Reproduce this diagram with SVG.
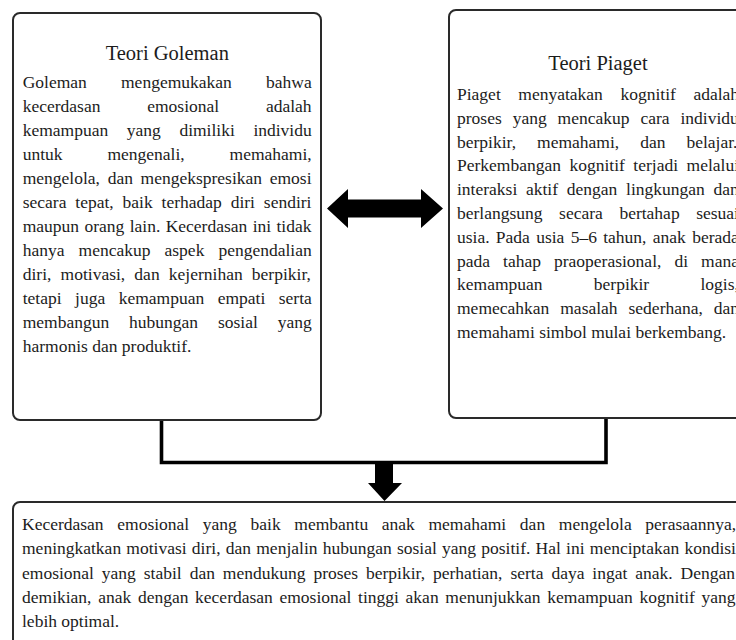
<svg xmlns="http://www.w3.org/2000/svg" width="736" height="640" viewBox="0 0 736 640">
<style>
.box{fill:#fff;stroke:#2a2a2a;stroke-width:2}
.t{font-family:"Liberation Serif","Times New Roman",serif;font-size:17.5px;fill:#1c1c1c}
.ttl{font-family:"Liberation Serif","Times New Roman",serif;font-size:20.5px;fill:#1c1c1c;text-anchor:middle}
.conn{fill:none;stroke:#000;stroke-width:3.6;stroke-linejoin:miter}
.arr{fill:#000}
</style>
<rect width="736" height="640" fill="#fff"/>
<g id="connectors">
<polyline class="conn" points="161.5,420 161.5,462.5 606,462.5 606,418"/>
<polygon class="arr" points="375,462 393,462 393,483 402,483 384.5,501 368,483 375,483"/>
<polygon class="arr" points="327,208.5 348,189 348,199.5 421,199.5 421,189 443,208.5 421,228 421,217.5 348,217.5 348,228"/>
</g>
<g id="goleman">
<rect class="box" x="13" y="13" width="308" height="407" rx="7"/>
<text class="ttl" x="167.3" y="60">Teori Goleman</text>
<text class="t" x="22.7" y="88" style="word-spacing:29.8px">Goleman mengemukakan bahwa</text>
<text class="t" x="22.7" y="112" style="word-spacing:42.4px">kecerdasan emosional adalah</text>
<text class="t" x="22.7" y="136" style="word-spacing:14.2px">kemampuan yang dimiliki individu</text>
<text class="t" x="22.7" y="160" style="word-spacing:40.5px">untuk mengenali, memahami,</text>
<text class="t" x="22.7" y="184" style="word-spacing:3.3px">mengelola, dan mengekspresikan emosi</text>
<text class="t" x="22.7" y="208" style="word-spacing:4.5px">secara tepat, baik terhadap diri sendiri</text>
<text class="t" x="22.7" y="232" style="word-spacing:1px">maupun orang lain. Kecerdasan ini tidak</text>
<text class="t" x="22.7" y="256" style="word-spacing:9.7px">hanya mencakup aspek pengendalian</text>
<text class="t" x="22.7" y="280" style="word-spacing:4.8px">diri, motivasi, dan kejernihan berpikir,</text>
<text class="t" x="22.7" y="304" style="word-spacing:9.1px">tetapi juga kemampuan empati serta</text>
<text class="t" x="22.7" y="328" style="word-spacing:15.5px">membangun hubungan sosial yang</text>
<text class="t" x="22.7" y="352">harmonis dan produktif.</text>
</g>
<g id="piaget">
<rect class="box" x="449" y="10" width="298" height="408" rx="7"/>
<text class="ttl" x="598" y="70">Teori Piaget</text>
<text class="t" x="457" y="100" style="word-spacing:13.2px">Piaget menyatakan kognitif adalah</text>
<text class="t" x="457" y="123.8" style="word-spacing:6.55px">proses yang mencakup cara individu</text>
<text class="t" x="457" y="147.6" style="word-spacing:16.6px">berpikir, memahami, dan belajar.</text>
<text class="t" x="457" y="171.4" style="word-spacing:4.1px">Perkembangan kognitif terjadi melalui</text>
<text class="t" x="457" y="195.2" style="word-spacing:4.35px">interaksi aktif dengan lingkungan dan</text>
<text class="t" x="457" y="219" style="word-spacing:12.2px">berlangsung secara bertahap sesuai</text>
<text class="t" x="457" y="242.8" style="word-spacing:1.93px">usia. Pada usia 5–6 tahun, anak berada</text>
<text class="t" x="457" y="266.6" style="word-spacing:8.65px">pada tahap praoperasional, di mana</text>
<text class="t" x="457" y="290.4" style="word-spacing:46.9px">kemampuan berpikir logis,</text>
<text class="t" x="457" y="314.2" style="word-spacing:6.57px">memecahkan masalah sederhana, dan</text>
<text class="t" x="457" y="338">memahami simbol mulai berkembang.</text>
</g>
<g id="kesimpulan">
<rect class="box" x="13" y="502" width="737" height="160" rx="7"/>
<text class="t" x="22" y="530" style="word-spacing:9.27px">Kecerdasan emosional yang baik membantu anak memahami dan mengelola perasaannya,</text>
<text class="t" x="22" y="554.3" style="word-spacing:0.85px">meningkatkan motivasi diri, dan menjalin hubungan sosial yang positif. Hal ini menciptakan kondisi</text>
<text class="t" x="22" y="578.6" style="word-spacing:3.55px">emosional yang stabil dan mendukung proses berpikir, perhatian, serta daya ingat anak. Dengan</text>
<text class="t" x="22" y="602.9" style="word-spacing:2.3px">demikian, anak dengan kecerdasan emosional tinggi akan menunjukkan kemampuan kognitif yang</text>
<text class="t" x="22" y="627.2">lebih optimal.</text>
</g>
</svg>
